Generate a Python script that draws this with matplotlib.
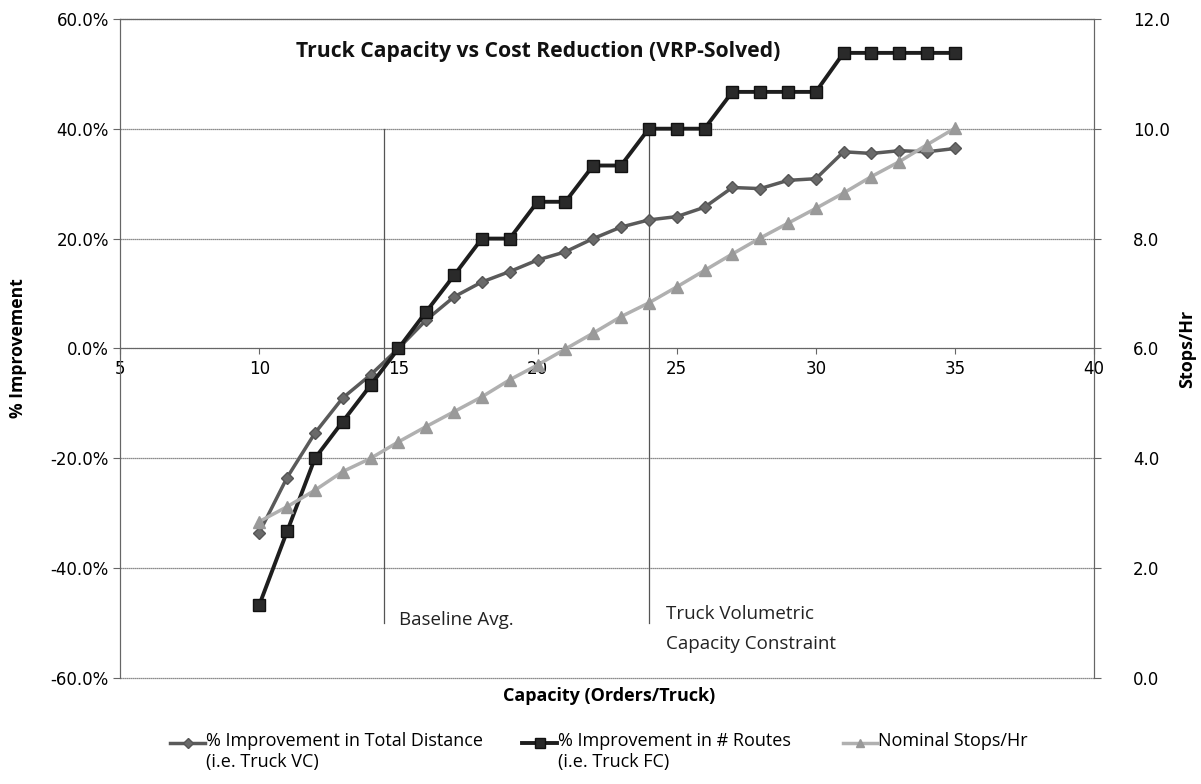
import numpy as np
import matplotlib.pyplot as plt
from matplotlib.lines import Line2D
from matplotlib.ticker import FuncFormatter

# capacity (orders/truck)
capacity = list(range(10, 36))

# % improvement in total distance (truck VC)
distance_pct = [-33.5, -23.5, -15.4, -9.0, -4.8, 0.0, 5.2, 9.4, 12.1, 14.0,
                16.1, 17.6, 20.0, 22.1, 23.4, 24.0, 25.7, 29.3, 29.1, 30.6,
                30.9, 35.8, 35.5, 36.0, 35.8, 36.4]

# % improvement in # routes (truck FC)
routes_pct = [-46.7, -33.3, -20.0, -13.3, -6.7, 0.0, 6.7, 13.3, 20.0, 20.0,
              26.7, 26.7, 33.3, 33.3, 40.0, 40.0, 40.0, 46.7, 46.7, 46.7,
              46.7, 53.8, 53.8, 53.8, 53.8, 53.8]

# nominal stops/hr (right axis)
stops_hr = [2.85, 3.12, 3.42, 3.76, 4.00, 4.30, 4.58, 4.85, 5.12, 5.43,
            5.70, 5.99, 6.28, 6.58, 6.83, 7.12, 7.42, 7.72, 8.01, 8.28,
            8.55, 8.83, 9.13, 9.40, 9.71, 10.01]

baseline_x = 14.5
constraint_x = 24

legend_labels = ['% Improvement in Total Distance\n(i.e. Truck VC)',
                 '% Improvement in # Routes\n(i.e. Truck FC)',
                 'Nominal Stops/Hr']

ui = ['Open Sans', 'DejaVu Sans']
W, H = 1201, 784

fig = plt.figure(figsize=(12.01, 7.84), dpi=100)
ax = fig.add_axes([0.1, 0.135, 0.811, 0.841])
ax2 = ax.twinx()

# grid
for v in np.arange(-60, 61, 20):
    ax.axhline(v, color='#666666', lw=0.9, ls=(0, (1, 0.6)), zorder=1, clip_on=False)

ax.set_xlim(5, 40)
ax.set_ylim(-60, 60)
ax2.set_ylim(0, 12)

ax.spines['bottom'].set_position(('data', 0))
for s in ['left', 'right', 'top']:
    ax.spines[s].set_color('#666666')
    ax2.spines[s].set_color('#666666')
ax.spines['bottom'].set_color('#666666')
ax2.spines['bottom'].set_visible(False)

ax.set_xticks(np.arange(5, 41, 5))
ax.set_yticks(np.arange(-60, 61, 20))
ax2.set_yticks(np.arange(0, 12.1, 2))
ax.yaxis.set_major_formatter(FuncFormatter(lambda v, p: '%.1f%%' % v))
ax2.yaxis.set_major_formatter(FuncFormatter(lambda v, p: '%.1f' % v))
ax.tick_params(axis='x', direction='out', length=4, color='#666666', labelsize=12, pad=4)
ax.tick_params(axis='y', direction='out', length=5, color='#666666', labelsize=12, pad=3)
ax2.tick_params(axis='y', direction='out', length=5, color='#666666', labelsize=12, pad=23)

# annotation lines
ax.plot([baseline_x, baseline_x], [40, -50], color='#555555', lw=0.9, zorder=2)
ax.plot([constraint_x, constraint_x], [40, -50], color='#555555', lw=0.9, zorder=2)
ax.text(baseline_x + 0.52, -49.5, 'Baseline Avg.', fontsize=13.5, family=ui, va='center', color='#222222')
ax.text(constraint_x + 0.62, -46.6, 'Truck Volumetric\nCapacity Constraint', fontsize=13.5, family=ui,
        va='top', color='#222222', linespacing=1.9)

l1, = ax.plot(capacity, distance_pct, color='#5a5a5a', lw=2.5, marker='D', ms=6,
              mfc='#6a6a6a', mec='#555555', zorder=4)
l2, = ax.plot(capacity, routes_pct, color='#1e1e1e', lw=2.8, marker='s', ms=9,
              mfc='#2a2a2a', mec='#111111', zorder=5)
l3, = ax2.plot(capacity, stops_hr, color='#b0b0b0', lw=2.5, marker='^', ms=8,
               mfc='#9a9a9a', mec='#999999', zorder=3)

ax.text(0.429, 0.95, 'Truck Capacity vs Cost Reduction (VRP-Solved)', transform=ax.transAxes,
        ha='center', va='center', fontsize=15.2, fontweight='bold', family=ui, color='#111111')

ax.set_ylabel('% Improvement', fontsize=12.6, fontweight='bold', family=ui, labelpad=17)
ax2.set_ylabel('Stops/Hr', fontsize=13, fontweight='bold', family=ui, labelpad=6)
fig.text(609 / W, 1 - 696 / H, 'Capacity (Orders/Truck)', ha='center', va='center', fontsize=13,
         fontweight='bold', family=ui)

# legend drawn below the plot, handle aligned with the first text line
handles = [l1, l2, l3]
hx = [(170, 205), (522, 557), (843, 877)]
hy = 743
for h, (x0, x1), lab in zip(handles, hx, legend_labels):
    fig.add_artist(Line2D([x0 / W, x1 / W], [1 - hy / H, 1 - hy / H], transform=fig.transFigure,
                          color=h.get_color(), lw=h.get_linewidth()))
    fig.add_artist(Line2D([(x0 + x1) / 2 / W], [1 - hy / H], transform=fig.transFigure,
                          marker=h.get_marker(), ms=h.get_markersize() * 0.8,
                          mfc=h.get_markerfacecolor(), mec=h.get_markeredgecolor(), ls='none'))
    fig.text((x1 + 1) / W, 1 - (hy - 11) / H, lab, ha='left', va='top', fontsize=13,
             family=ui, linespacing=1.2)

fig.savefig('out.png', dpi=100)
